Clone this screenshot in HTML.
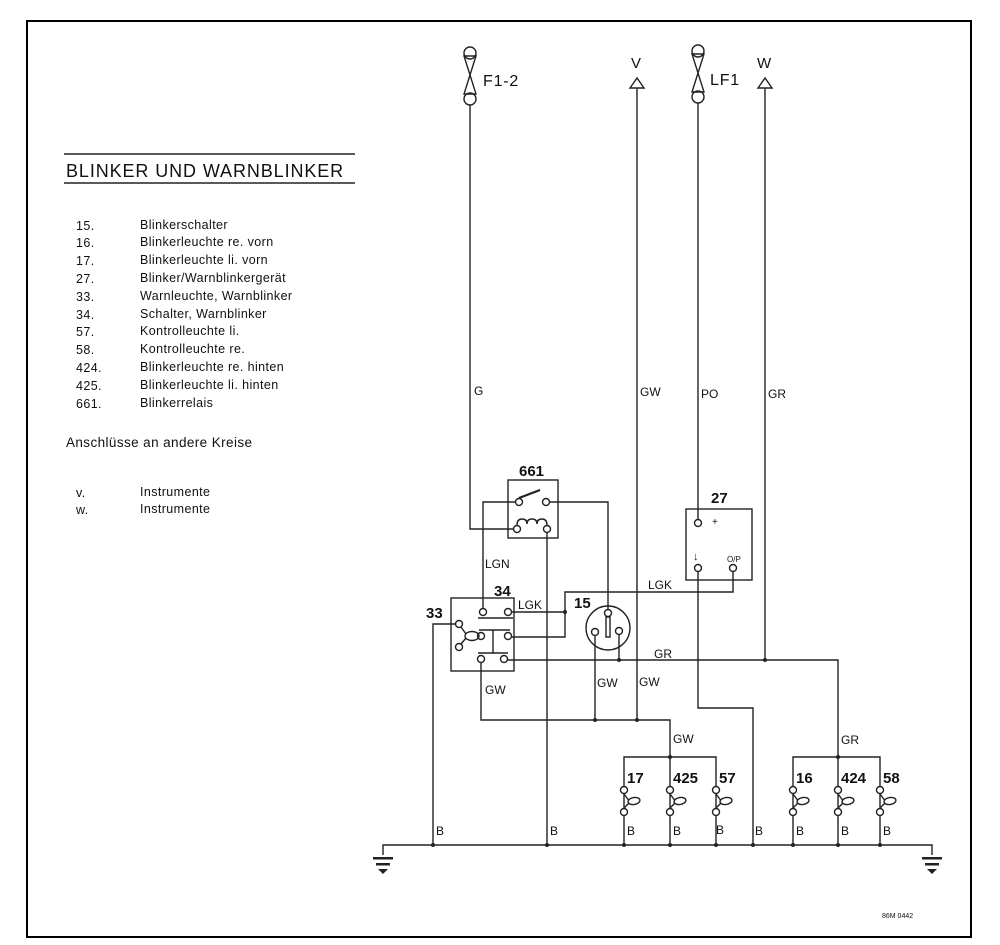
<!DOCTYPE html>
<html><head><meta charset="utf-8"><style>
html,body{margin:0;padding:0;background:#fff;}
svg{display:block;}
text{font-family:"Liberation Sans",sans-serif;fill:#111;}
</style></head><body>
<svg width="1000" height="945" viewBox="0 0 1000 945" xmlns="http://www.w3.org/2000/svg">
<rect x="27" y="21" width="944" height="916" fill="none" stroke="#000" stroke-width="2"/>
<!-- title -->
<line x1="64" y1="154" x2="355" y2="154" stroke="#222" stroke-width="1.5"/>
<line x1="64" y1="183" x2="355" y2="183" stroke="#222" stroke-width="1.5"/>
<text x="66" y="177" font-size="18" letter-spacing="0.9">BLINKER UND WARNBLINKER</text>
<g font-size="12.5" letter-spacing="0.4">
<text x="76" y="230">15.</text><text x="140" y="229">Blinkerschalter</text>
<text x="76" y="247">16.</text><text x="140" y="246">Blinkerleuchte re. vorn</text>
<text x="76" y="265">17.</text><text x="140" y="264">Blinkerleuchte li. vorn</text>
<text x="76" y="283">27.</text><text x="140" y="282">Blinker/Warnblinkergerät</text>
<text x="76" y="301">33.</text><text x="140" y="300">Warnleuchte, Warnblinker</text>
<text x="76" y="319">34.</text><text x="140" y="318">Schalter, Warnblinker</text>
<text x="76" y="336">57.</text><text x="140" y="335">Kontrolleuchte li.</text>
<text x="76" y="354">58.</text><text x="140" y="353">Kontrolleuchte re.</text>
<text x="76" y="372">424.</text><text x="140" y="371">Blinkerleuchte re. hinten</text>
<text x="76" y="390">425.</text><text x="140" y="389">Blinkerleuchte li. hinten</text>
<text x="76" y="408">661.</text><text x="140" y="407">Blinkerrelais</text>
<text x="66" y="447" font-size="13.5">Anschlüsse an andere Kreise</text>
<text x="76" y="497">v.</text><text x="140" y="496">Instrumente</text>
<text x="76" y="514">w.</text><text x="140" y="513">Instrumente</text>
</g>
<g stroke="#222" stroke-width="1.4" fill="none">
<!-- fuses -->
<circle cx="470" cy="53" r="6"/><path d="M464 56 L476 56 L464 94 L476 94 Z"/><circle cx="470" cy="99" r="6"/>
<circle cx="698" cy="51" r="6"/><path d="M692 54 L704 54 L692 92 L704 92 Z"/><circle cx="698" cy="97" r="6"/>
<!-- triangles -->
<path d="M637 78 L630 88 L644 88 Z"/>
<path d="M765 78 L758 88 L772 88 Z"/>
<!-- F1-2 wire -->
<polyline points="470,105 470,529 513,529"/>
<!-- V wire -->
<line x1="637" y1="88" x2="637" y2="720"/>
<!-- LF1 wire -->
<polyline points="698,103 698,519"/>
<polyline points="698,572 698,708 753,708 753,845"/>
<!-- W wire -->
<polyline points="765,88 765,660"/>
<!-- relay 661 -->
<rect x="508" y="480" width="50" height="58"/>
<circle cx="519" cy="502" r="3.5"/><circle cx="546" cy="502" r="3.5"/>
<line x1="519" y1="498" x2="540" y2="490" stroke-width="2.2"/>
<circle cx="517" cy="529" r="3.5"/><circle cx="547" cy="529" r="3.5"/>
<path d="M517 525 q0 -6 5 -6 q5 0 5 5 q0 -5 5 -5 q5 0 5 5 q0 -5 5 -5 q5 0 5 6"/>
<polyline points="515,502 483,502 483,609"/>
<polyline points="550,502 608,502 608,610"/>
<line x1="547" y1="533" x2="547" y2="845"/>
<!-- box 33/34 -->
<rect x="451" y="598" width="63" height="73"/>
<circle cx="483" cy="612" r="3.5"/><circle cx="508" cy="612" r="3.5"/>
<line x1="478" y1="618" x2="513" y2="618"/>
<line x1="479" y1="630" x2="510" y2="630"/>
<circle cx="481" cy="636" r="3.5"/><circle cx="508" cy="636" r="3.5"/>
<line x1="493" y1="630" x2="493" y2="653"/>
<line x1="478" y1="653" x2="508" y2="653"/>
<circle cx="481" cy="659" r="3.5"/><circle cx="504" cy="659" r="3.5"/>
<circle cx="459" cy="624" r="3.5"/><circle cx="459" cy="647" r="3.5"/>
<ellipse cx="472" cy="636" rx="7" ry="4.5"/>
<line x1="461" y1="627" x2="466" y2="634"/><line x1="461" y1="644" x2="466" y2="638"/>
<polyline points="455,624 433,624 433,845"/>
<polyline points="511,612 565,612"/>
<polyline points="511,637 565,637 565,592 733,592 733,572"/>
<polyline points="507,660 838,660 838,757"/>
<polyline points="481,663 481,720 670,720 670,757"/>
<!-- switch 15 -->
<circle cx="608" cy="628" r="22"/>
<circle cx="608" cy="613" r="3.5"/>
<rect x="606" y="617" width="4" height="20"/>
<circle cx="595" cy="632" r="3.5"/><circle cx="619" cy="631" r="3.5"/>
<line x1="595" y1="636" x2="595" y2="720"/>
<line x1="619" y1="635" x2="619" y2="660"/>
<!-- 27 -->
<rect x="686" y="509" width="66" height="71"/>
<circle cx="698" cy="523" r="3.5"/><circle cx="698" cy="568" r="3.5"/><circle cx="733" cy="568" r="3.5"/>
<!-- lamp buses -->
<polyline points="624,845 624,757 716,757 716,845"/>
<line x1="670" y1="757" x2="670" y2="845"/>
<polyline points="793,845 793,757 880,757 880,845"/>
<line x1="838" y1="757" x2="838" y2="845"/>
<!-- ground bus -->
<polyline points="383,855 383,845 932,845 932,855"/>
</g>
<!-- lamp symbols -->
<g stroke="#222" stroke-width="1.4" fill="#fff">
<g id="lp"><circle cx="624" cy="790" r="3.5"/><circle cx="624" cy="812" r="3.5"/><path d="M624 794 L630 802 L624 808" fill="none"/><ellipse cx="634" cy="801" rx="6" ry="3.5" transform="rotate(-10 634 801)"/></g>
<use href="#lp" x="46"/><use href="#lp" x="92"/><use href="#lp" x="169"/><use href="#lp" x="214"/><use href="#lp" x="256"/>
</g>
<g fill="#222">
<circle cx="565" cy="612" r="2"/><circle cx="619" cy="660" r="2"/><circle cx="765" cy="660" r="2"/>
<circle cx="595" cy="720" r="2"/><circle cx="637" cy="720" r="2"/><circle cx="670" cy="757" r="2"/><circle cx="838" cy="757" r="2"/>
<circle cx="433" cy="845" r="2"/><circle cx="547" cy="845" r="2"/><circle cx="624" cy="845" r="2"/><circle cx="670" cy="845" r="2"/><circle cx="716" cy="845" r="2"/><circle cx="753" cy="845" r="2"/><circle cx="793" cy="845" r="2"/><circle cx="838" cy="845" r="2"/><circle cx="880" cy="845" r="2"/>
<!-- grounds -->
<rect x="373" y="857" width="20" height="2.5"/><rect x="376" y="863" width="14" height="2.5"/><path d="M378 869 L388 869 L383 874 Z"/>
<rect x="922" y="857" width="20" height="2.5"/><rect x="925" y="863" width="14" height="2.5"/><path d="M927 869 L937 869 L932 874 Z"/>
</g>
<g font-size="15" font-weight="bold">
<text x="483" y="86" font-weight="normal" font-size="16" letter-spacing="0.8">F1-2</text>
<text x="710" y="85" font-weight="normal" font-size="16" letter-spacing="0.8">LF1</text>
<text x="631" y="68" font-weight="normal">V</text>
<text x="757" y="68" font-weight="normal">W</text>
<text x="519" y="476">661</text>
<text x="711" y="503">27</text>
<text x="494" y="596">34</text>
<text x="426" y="618">33</text>
<text x="574" y="608">15</text>
<text x="627" y="783">17</text>
<text x="673" y="783">425</text>
<text x="719" y="783">57</text>
<text x="796" y="783">16</text>
<text x="841" y="783">424</text>
<text x="883" y="783">58</text>
</g>
<g font-size="12">
<text x="474" y="395">G</text><text x="640" y="396">GW</text><text x="701" y="398">PO</text><text x="768" y="398">GR</text>
<text x="485" y="568">LGN</text><text x="518" y="609">LGK</text><text x="648" y="589">LGK</text>
<text x="654" y="658">GR</text><text x="485" y="694">GW</text><text x="597" y="687">GW</text><text x="639" y="686">GW</text>
<text x="673" y="743">GW</text><text x="841" y="744">GR</text>
<text x="436" y="835">B</text><text x="550" y="835">B</text><text x="627" y="835">B</text><text x="673" y="835">B</text><text x="716" y="834">B</text><text x="755" y="835">B</text><text x="796" y="835">B</text><text x="841" y="835">B</text><text x="883" y="835">B</text>
<text x="712" y="525" font-size="10">+</text>
<text x="693" y="560" font-size="11">↓</text>
<text x="727" y="562" font-size="8">O/P</text>
<text x="882" y="918" font-size="7">86M 0442</text>
</g>
</svg>
</body></html>
